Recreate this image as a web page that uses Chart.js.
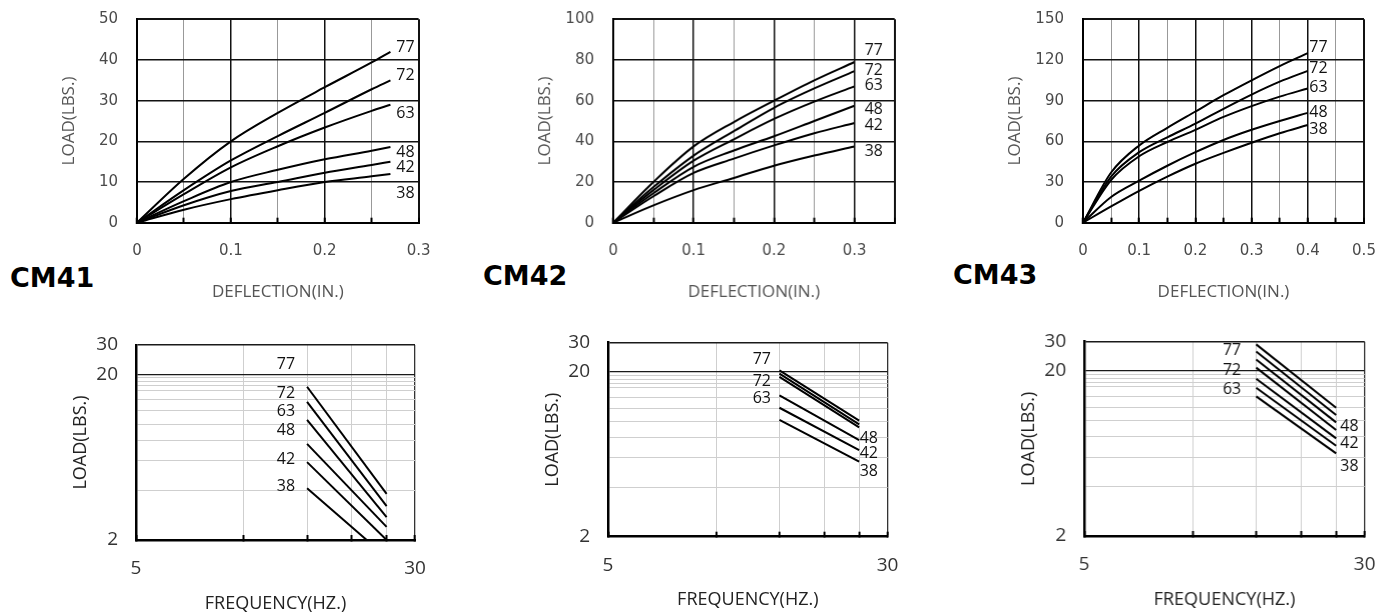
<!DOCTYPE html>
<html>
<head>
<meta charset="utf-8">
<script src="https://cdn.jsdelivr.net/npm/chart.js@4.4.1/dist/chart.umd.min.js"></script>
<style>
  html, body { margin: 0; padding: 0; background: #fff; overflow: hidden; }
  body { width: 1387px; height: 614px; position: relative; }
  .box { position: absolute; }
  .name { position: absolute; font: bold 27px "DejaVu Sans"; color: #000; line-height: 1; }
</style>
</head>
<body>
<div class="name" style="left:10px;top:264px">CM41</div>
<div class="name" style="left:483px;top:262px">CM42</div>
<div class="name" style="left:953px;top:261px">CM43</div>
<script>
// curve names
const namesSix = ['77', '72', '63', '48', '42', '38'];
const namesFive = ['77', '72', '63', '48', '38'];

// CM41 load vs deflection
const cm41Defl = [0, 0.05, 0.1, 0.15, 0.2, 0.25, 0.27];
const cm41Load = [
  [0, 10.8, 20, 27, 33.3, 39.4, 42],
  [0, 8, 15.3, 21.3, 27, 32.8, 35],
  [0, 7, 13.6, 18.8, 23.4, 27.5, 29],
  [0, 5.3, 10, 13, 15.6, 17.7, 18.6],
  [0, 4.3, 7.8, 10, 12.3, 14.2, 15],
  [0, 3.2, 5.8, 8, 10, 11.4, 12]
];
const cm41TagX = [0.286, 0.286, 0.286, 0.286, 0.286, 0.286];
const cm41TagY = [43.1, 36.1, 26.8, 17.2, 13.6, 7.2];

// CM42 load vs deflection
const cm42Defl = [0, 0.05, 0.1, 0.15, 0.2, 0.25, 0.3];
const cm42Load = [
  [0, 20, 37.5, 49.5, 60, 70, 79],
  [0, 17.5, 33, 45, 56.5, 66, 74.5],
  [0, 16, 30.5, 41, 51, 59.5, 67],
  [0, 14.5, 27.5, 35.5, 42.5, 50, 57.5],
  [0, 13, 24.5, 31.5, 38, 44, 49],
  [0, 8.5, 16, 22, 28, 33, 37.5]
];
const cm42TagX = [0.324, 0.324, 0.324, 0.324, 0.324, 0.324];
const cm42TagY = [84.7, 75.1, 67.3, 55.8, 47.9, 34.9];

// CM43 load vs deflection
const cm43Defl = [0, 0.05, 0.1, 0.15, 0.2, 0.25, 0.3, 0.35, 0.4];
const cm43Load = [
  [0, 37, 57, 70, 82, 94, 105, 115.5, 125],
  [0, 34, 52, 63, 73, 84, 94.5, 104, 112],
  [0, 31.5, 49, 59.5, 68.5, 78, 86, 93, 99],
  [0, 19, 31, 42, 52, 61, 68.5, 75, 81],
  [0, 12, 23.5, 34, 43.5, 51.5, 59, 66, 72]
];
const cm43TagX = [0.419, 0.419, 0.419, 0.419, 0.419];
const cm43TagY = [129.2, 113.7, 99.7, 81.3, 69];

// load vs frequency (log-log)
const freqTicks = [5, 10, 15, 20, 25, 30];
const loadGrid = [2, 4, 6, 8, 10, 12, 14, 16, 17, 18, 19, 20, 30];

const f41HzFrom = [15, 15, 15, 15, 15, 15];
const f41HzTo = [25, 25, 25, 25, 25, 22];
const f41LoadFrom = [16.8, 13.6, 10.6, 7.6, 5.9, 4.1];
const f41LoadTo = [3.8, 3.2, 2.75, 2.4, 2, 2];
const f41TagX = [13.1, 13.1, 13.1, 13.1, 13.1, 13.1];
const f41TagY = [22.9, 15.4, 11.9, 9.1, 6.1, 4.2];

const f42HzFrom = [15, 15, 15, 15, 15, 15];
const f42HzTo = [25, 25, 25, 25, 25, 25];
const f42LoadFrom = [20.4, 19.5, 18.6, 14.4, 12.1, 10.2];
const f42LoadTo = [10.1, 9.6, 9.2, 7.7, 6.7, 5.7];
const f42TagX = [13.4, 13.4, 13.4, 26.6, 26.6, 26.6];
const f42TagY = [23.8, 17.4, 13.8, 7.9, 6.4, 5.0];

const f43HzFrom = [15, 15, 15, 15, 15, 15, 15];
const f43HzTo = [25, 25, 25, 25, 25, 25, 25];
const f43LoadFrom = [28.9, 26.2, 23.4, 20.9, 17.9, 15.8, 14.0];
const f43LoadTo = [11.95, 10.8, 9.75, 8.76, 7.8, 7.04, 6.33];
const f43TagX = [12.85, 12.85, 12.85, 27.2, 27.2, 27.2];
const f43TagY = [26.5, 20.0, 15.5, 9.17, 7.28, 5.3];

// curve labels drawn at data coordinates
function makeTags(text, xs, ys) {
  return {
    id: 'tags',
    afterDatasetsDraw(chart) {
      const { ctx, scales } = chart;
      ctx.save();
      ctx.font = '16px "Open Sans"';
      ctx.fillStyle = '#111';
      ctx.textAlign = 'center';
      ctx.textBaseline = 'middle';
      text.forEach((t, i) => {
        ctx.fillText(t, scales.x.getPixelForValue(xs[i]), scales.y.getPixelForValue(ys[i]));
      });
      ctx.restore();
    }
  };
}

// wrapper: 100px for the y axis on the left, 45px spare on the right
function mount(rect, top, bottom) {
  const wrap = document.createElement('div');
  wrap.className = 'box';
  wrap.style.left = (rect[0] - 100) + 'px';
  wrap.style.top = top + 'px';
  wrap.style.width = (rect[2] - rect[0] + 145) + 'px';
  wrap.style.height = (bottom - top) + 'px';
  const cv = document.createElement('canvas');
  wrap.appendChild(cv);
  document.body.appendChild(wrap);
  return cv;
}

const isTenth = v => Math.round(v * 100) % 10 === 0;

function deflChart(rect, xs, loads, names, xMax, yMax, yStep, tagX, tagY) {
  const cv = mount(rect, 0, 310);
  new Chart(cv, {
    type: 'line',
    data: {
      datasets: loads.map((ys, i) => ({
        label: names[i],
        data: ys.map((y, j) => ({ x: xs[j], y: y })),
        borderColor: '#000',
        borderWidth: 2,
        pointRadius: 0,
        cubicInterpolationMode: 'monotone',
        fill: false
      }))
    },
    options: {
      responsive: true,
      maintainAspectRatio: false,
      animation: false,
      layout: { padding: { left: 0, right: 45, top: rect[1], bottom: 0 } },
      plugins: { legend: { display: false }, tooltip: { enabled: false } },
      scales: {
        x: {
          type: 'linear', min: 0, max: xMax,
          afterFit: s => { s.height = 310 - rect[3]; },
          ticks: {
            stepSize: 0.05, autoSkip: false, maxRotation: 0, padding: 24,
            color: '#4a4a4a', font: { family: 'DejaVu Sans', size: 15 },
            callback: v => isTenth(v) ? (v === 0 ? '0' : v.toFixed(1)) : ''
          },
          grid: {
            color: c => (c.index === c.scale.ticks.length - 1 || isTenth(c.tick.value)) ? '#111' : '#999',
            lineWidth: c => c.index === c.scale.ticks.length - 1 ? 2 : (isTenth(c.tick.value) ? 1.5 : 1),
            tickLength: -5, tickColor: '#000', tickWidth: 2
          },
          border: { color: '#000', width: 2 },
          title: {
            display: true, text: 'DEFLECTION(IN.)', color: '#555',
            font: { family: 'Open Sans', size: 17 }, padding: { top: 0, bottom: 7.8 }
          }
        },
        y: {
          min: 0, max: yMax,
          afterFit: s => { s.width = 100; },
          ticks: {
            stepSize: yStep, padding: 0,
            color: '#4a4a4a', font: { family: 'DejaVu Sans', size: 15 }
          },
          grid: {
            color: '#111',
            lineWidth: c => c.index === c.scale.ticks.length - 1 ? 2 : 1.5,
            tickLength: 19, tickColor: 'rgba(0,0,0,0)'
          },
          border: { color: '#000', width: 2 },
          title: {
            display: true, text: 'LOAD(LBS.)', color: '#555',
            font: { family: 'Open Sans', size: 17 }, padding: { top: 21.8, bottom: 0 }
          }
        }
      }
    },
    plugins: [makeTags(names, tagX, tagY)]
  });
}

function freqChart(rect, hzFrom, hzTo, loadFrom, loadTo, tagX, tagY, titleY) {
  const cv = mount(rect, 320, 620);
  new Chart(cv, {
    type: 'line',
    data: {
      datasets: hzFrom.map((h, i) => ({
        data: [{ x: h, y: loadFrom[i] }, { x: hzTo[i], y: loadTo[i] }],
        borderColor: '#000',
        borderWidth: 2,
        pointRadius: 0,
        tension: 0,
        fill: false
      }))
    },
    options: {
      responsive: true,
      maintainAspectRatio: false,
      animation: false,
      layout: { padding: { left: 0, right: 45, top: rect[1] - 320, bottom: 0 } },
      plugins: { legend: { display: false }, tooltip: { enabled: false } },
      scales: {
        x: {
          type: 'logarithmic', min: 5, max: 30,
          afterFit: s => { s.height = 620 - rect[3]; },
          afterBuildTicks: s => { s.ticks = freqTicks.map(v => ({ value: v })); },
          ticks: {
            autoSkip: false, maxRotation: 0, padding: 22.6,
            color: '#333', font: { family: 'Open Sans', size: 19 },
            callback: v => (v === 5 || v === 30) ? String(v) : ''
          },
          grid: {
            color: c => c.tick.value === 30 ? '#333' : '#cfcfcf',
            lineWidth: c => c.tick.value === 30 ? 1.3 : 1,
            tickLength: -5, tickColor: '#000', tickWidth: 2
          },
          border: { color: '#000', width: 2.5 },
          title: {
            display: true, text: 'FREQUENCY(HZ.)', color: '#222',
            font: { family: 'Open Sans', size: 18 }, padding: { top: 0, bottom: 609.2 - titleY }
          }
        },
        y: {
          type: 'logarithmic', min: 2, max: 30,
          afterFit: s => { s.width = 100; },
          afterBuildTicks: s => { s.ticks = loadGrid.map(v => ({ value: v })); },
          ticks: {
            autoSkip: false, padding: 0,
            color: '#333', font: { family: 'Open Sans', size: 19 },
            callback: v => [2, 20, 30].includes(v) ? String(v) : ''
          },
          grid: {
            color: c => (c.tick.value === 20 || c.tick.value === 30) ? '#1a1a1a' : '#cfcfcf',
            lineWidth: c => c.tick.value === 30 ? 1.5 : (c.tick.value === 20 ? 1.3 : 1),
            tickLength: 18, tickColor: 'rgba(0,0,0,0)'
          },
          border: { color: '#000', width: 2.5 },
          title: {
            display: true, text: 'LOAD(LBS.)', color: '#222',
            font: { family: 'Open Sans', size: 18 }, padding: { top: 34.2, bottom: 0 }
          }
        }
      }
    },
    plugins: [makeTags(namesSix, tagX, tagY)]
  });
}

deflChart([136.7, 19.3, 418.3, 222.7], cm41Defl, cm41Load, namesSix, 0.3, 50, 10, cm41TagX, cm41TagY);
deflChart([613.3, 19.3, 894, 222.7], cm42Defl, cm42Load, namesSix, 0.35, 100, 20, cm42TagX, cm42TagY);
deflChart([1083, 19.3, 1364, 222.7], cm43Defl, cm43Load, namesFive, 0.5, 150, 30, cm43TagX, cm43TagY);

freqChart([136, 345, 415, 540], f41HzFrom, f41HzTo, f41LoadFrom, f41LoadTo, f41TagX, f41TagY, 604);
freqChart([607.7, 342.7, 887.3, 536.7], f42HzFrom, f42HzTo, f42LoadFrom, f42LoadTo, f42TagX, f42TagY, 599.5);
freqChart([1084.3, 341.7, 1364, 536], f43HzFrom, f43HzTo, f43LoadFrom, f43LoadTo, f43TagX, f43TagY, 600);
</script>
</body>
</html>
